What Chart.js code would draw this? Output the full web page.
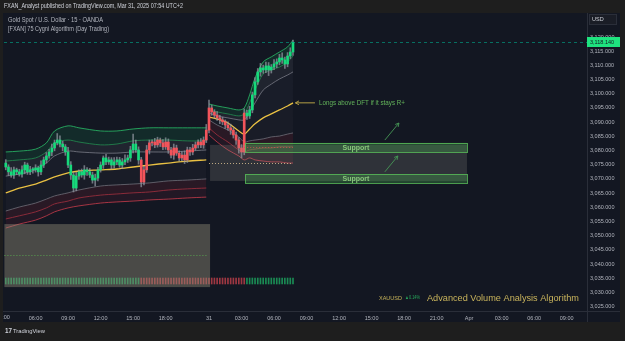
<!DOCTYPE html>
<html>
<head>
<meta charset="utf-8">
<style>
  html, body { margin: 0; padding: 0; background: #1e1e1e; }
  canvas { display: block; }
</style>
<script src="https://cdn.jsdelivr.net/npm/chart.js@4.4.1/dist/chart.umd.min.js"></script>
</head>
<body>
<canvas id="myChart" width="625" height="341"></canvas>
<script>
// bar index: 0 = Mar 31 00:00, one step = 15 min
const timeTickIdx = [-76, -64, -52, -40, -28, -16, 0, 12, 24, 36, 48, 60, 72, 84, 96, 108, 120, 132];
const timeTickLabels = ["03:00", "06:00", "09:00", "12:00", "15:00", "18:00", "31", "03:00", "06:00", "09:00", "12:00", "15:00", "18:00", "21:00", "Apr", "03:00", "06:00", "09:00"];
const priceTicks = [3025, 3030, 3035, 3040, 3045, 3050, 3055, 3060, 3065, 3070, 3075, 3080, 3085, 3090, 3095, 3100, 3105, 3110, 3115, 3120];

const firstOpen = 3075.6;
const fridayClose = [
  3074.2, 3072.5, 3071.4, 3073.2, 3072.5,
  3071.7, 3073.2, 3074.9, 3072.5, 3073.2,
  3073.2, 3073.9, 3072.5, 3074.9, 3076.7,
  3078.1, 3079.5, 3080.9, 3082.7, 3083.7,
  3082.3, 3081.3, 3079.5, 3074.9, 3071.4,
  3066.8, 3071.0, 3072.5, 3071.4, 3073.2,
  3072.5, 3071.4, 3069.6, 3070.3, 3073.2,
  3074.9, 3077.4, 3076.0, 3076.7, 3074.9,
  3076.0, 3076.7, 3074.9, 3076.0, 3076.7,
  3077.4, 3080.2, 3082.3, 3080.2, 3076.7,
  3068.9, 3073.2, 3080.2, 3082.7, 3083.0,
  3082.0, 3083.7, 3082.7, 3081.3, 3083.0,
  3080.2, 3078.4, 3080.9, 3079.1, 3077.4,
  3078.4, 3076.7, 3080.2, 3079.5, 3080.9,
  3082.0, 3083.0, 3082.0, 3083.7, 3087.2
];
const mondayClose = [
  3095.0, 3093.6, 3092.5, 3091.5, 3090.8,
  3090.1, 3089.0, 3088.0, 3087.2, 3085.5,
  3083.7, 3080.9, 3079.5, 3093.2, 3092.2,
  3094.3, 3099.6, 3104.2, 3107.7, 3109.1,
  3108.4, 3109.8, 3108.4, 3109.4, 3110.5,
  3111.2, 3112.6, 3111.9, 3110.5, 3113.3,
  3114.7, 3118.14
];
const fridayWickHi = [
  1.2, 0.8, 1.5, 1.0, 0.6, 0.9, 1.4, 1.0, 0.7, 1.2, 0.8, 1.1, 0.6, 1.5, 1.0,
  1.2, 0.9, 1.4, 1.0, 2.3, 1.5, 1.0, 0.8, 1.6, 1.2, 0.9, 1.3, 0.7, 1.0, 1.5,
  0.8, 1.2, 1.0, 1.4, 0.9, 1.1, 0.7, 1.3, 1.0, 0.8, 1.5, 1.0, 0.9, 1.2, 1.8,
  1.0, 1.3, 3.5, 1.4, 1.1, 0.9, 1.2, 1.6, 1.0, 0.8, 1.3, 1.0, 0.7, 1.2, 1.5,
  1.1, 0.9, 1.4, 1.0, 0.8, 1.2, 1.5, 1.0, 0.9, 1.3, 1.0, 0.8, 1.2, 1.1, 2.0
];
const fridayWickLo = [
  1.0, 1.3, 0.8, 1.2, 1.0, 0.7, 1.1, 1.4, 0.9, 1.0, 1.2, 0.8, 1.5, 1.0, 0.9,
  1.1, 0.8, 1.3, 1.0, 0.7, 1.0, 1.4, 1.2, 0.9, 1.6, 1.4, 1.0, 1.2, 0.8, 1.5,
  1.3, 0.9, 1.1, 2.1, 1.0, 0.8, 1.2, 1.0, 0.9, 1.4, 1.1, 1.0, 0.8, 1.3, 1.0,
  0.9, 1.2, 1.0, 0.8, 1.5, 1.7, 1.0, 0.9, 1.4, 1.1, 1.0, 0.8, 1.3, 1.0, 0.9,
  1.2, 1.0, 1.5, 0.8, 1.1, 1.0, 1.3, 0.9, 1.2, 1.0, 0.8, 1.1, 1.0, 1.2, 0.9
];
const mondayWickHi = [
  2.8, 1.0, 0.8, 1.2, 0.9, 1.0, 0.7, 1.1, 1.3, 0.8, 1.0, 0.9, 1.2, 1.5, 1.0, 1.3,
  1.0, 1.5, 1.2, 1.6, 1.0, 1.4, 1.2, 0.9, 1.5, 1.1, 1.3, 1.8, 1.0, 1.2, 1.5, 0.8
];
const mondayWickLo = [
  1.0, 1.2, 1.0, 0.9, 1.3, 1.0, 1.2, 0.8, 1.5, 1.1, 1.5, 1.8, 2.1, 1.0, 1.2, 0.9,
  1.0, 1.1, 0.9, 1.5, 1.2, 1.0, 2.0, 1.1, 0.9, 1.3, 1.0, 1.2, 1.6, 1.0, 0.9, 1.2
];
// bars painted red by the algorithm (bar index ranges)
const redRuns = [[-25, -1], [0, 13]];

// algorithm bands, friday session
const fridayKnots = [-75, -70, -64, -60, -57, -52, -48, -40, -34, -28, -22, -15, -8, -1];
const friCloudTop = [3079.5, 3079.8, 3080.5, 3082.7, 3086.9, 3088.7, 3088.0, 3086.9, 3086.9, 3087.6, 3088.0, 3088.0, 3088.0, 3088.0];
const friCloudBot = [3076.3, 3076.7, 3077.4, 3079.5, 3082.7, 3083.7, 3083.0, 3082.0, 3082.3, 3083.4, 3083.7, 3083.7, 3083.4, 3083.4];
const friUpperGray = [3071.0, 3071.7, 3073.2, 3075.6, 3078.1, 3079.8, 3079.5, 3079.1, 3079.1, 3079.5, 3079.5, 3079.5, 3079.8, 3080.2];
const friDft = [3065.1, 3066.8, 3068.2, 3069.6, 3070.7, 3072.1, 3072.8, 3073.2, 3073.5, 3074.2, 3074.9, 3075.6, 3076.3, 3076.7];
const friLowerGray = [3058.7, 3060.1, 3061.5, 3062.9, 3064.0, 3065.1, 3066.1, 3067.5, 3067.9, 3068.2, 3068.6, 3069.3, 3069.6, 3070.0];
const friRedMid = [3055.9, 3057.0, 3058.4, 3059.8, 3061.2, 3062.2, 3063.3, 3064.3, 3064.7, 3065.1, 3065.4, 3066.1, 3066.5, 3066.8];
const friRedLow = [3052.7, 3054.1, 3055.5, 3057.0, 3058.4, 3059.8, 3060.5, 3061.5, 3061.9, 3062.2, 3062.6, 3062.9, 3063.3, 3063.6];

// algorithm bands, monday session
const mondayKnots = [0, 3, 7, 11, 13, 15, 17, 20, 23, 26, 29, 31];
const monCloudTop = [3096.4, 3095.7, 3095.0, 3094.3, 3095.0, 3099.6, 3105.6, 3111.2, 3113.0, 3114.7, 3116.5, 3118.9];
const monCloudBot = [3094.3, 3093.6, 3092.9, 3092.2, 3092.9, 3096.8, 3101.3, 3107.0, 3108.4, 3109.4, 3111.2, 3113.3];
const monUpperGray = [3093.2, 3092.2, 3091.5, 3090.8, 3090.8, 3093.6, 3096.8, 3101.3, 3103.4, 3105.2, 3106.6, 3107.7];
const monDft = [3091.8, 3091.1, 3089.7, 3086.9, 3085.8, 3087.6, 3089.4, 3091.5, 3092.9, 3094.3, 3095.7, 3096.8];
const monLowerGray = [3090.8, 3089.0, 3087.2, 3084.8, 3083.0, 3083.4, 3083.7, 3084.1, 3084.8, 3085.1, 3085.8, 3086.2];
const monRedMid = [3088.0, 3085.5, 3083.0, 3080.2, 3079.5, 3080.2, 3080.5, 3080.9, 3080.9, 3081.3, 3081.3, 3081.3];
const monRedLow = [3085.5, 3083.0, 3080.2, 3078.1, 3076.7, 3077.4, 3076.7, 3076.3, 3076.0, 3076.0, 3075.6, 3075.6];

// drawings on the chart
const lastPrice = 3118.14;
const planBox = { from: -75.5, to: 0.4, top: 3054.1, bottom: 3031.9 };
const rangeBox = { from: 0.4, to: 95.2, top: 3082.0, bottom: 3069.3 };
const supportZones = [
  { from: 13.3, to: 95.2, top: 3082.7, bottom: 3079.5 },
  { from: 13.3, to: 95.2, top: 3071.7, bottom: 3068.6 }
];
const levelLines = [
  { from: -75.5, to: -0.5, price: 3043.2, color: "rgba(90,170,80,0.9)" },
  { from: 0, to: 31, price: 3075.6, color: "rgba(225,200,150,0.8)" },
  { from: 13, to: 31, price: 3081.3, color: "rgba(220,80,80,0.8)" }
];
const noteArrow = { from: 39.1, to: 31.9, price: 3096.8, textAt: 40.6, text: "Longs above DFT if it stays R+" };
const upArrows = [
  [64.9, 3083.7, 70.1, 3089.7],
  [64.9, 3072.5, 69.7, 3078.1]
];

const FONT = '"Liberation Sans", Arial, sans-serif';
const GREEN = "#16d97b";
const RED = "#f2545b";
const X_MIN = -75.65;
const X_MAX = 139.5;

const closes = fridayClose.concat(mondayClose);
const wickHi = fridayWickHi.concat(mondayWickHi);
const wickLo = fridayWickLo.concat(mondayWickLo);
const candles = closes.map((c, k) => {
  const o = k === 0 ? firstOpen : closes[k - 1];
  const i = k - fridayClose.length;
  const red = redRuns.some(r => i >= r[0] && i <= r[1]);
  return { i, o, c, h: Math.max(o, c) + wickHi[k], l: Math.min(o, c) - wickLo[k], red };
});

const datasets = [];
datasets.push({
  type: "bar",
  data: candles.map(d => ({ x: d.i, y: [d.o, d.c] })),
  backgroundColor: candles.map(d => (d.red ? RED : GREEN)),
  barThickness: 2,
  minBarLength: 1,
  grouped: false,
  order: 0
});
datasets.push({
  type: "bar",
  data: candles.map(d => ({ x: d.i, y: [d.l, d.h] })),
  backgroundColor: "rgba(150,155,165,0.7)",
  barThickness: 1,
  grouped: false,
  order: 1
});
datasets.push({
  type: "bar",
  yAxisID: "yv",
  data: candles.map(d => ({ x: d.i, y: [4.5, 5.5] })),
  backgroundColor: candles.map(d => (d.red ? "rgba(220,70,80,0.7)" : "rgba(30,190,105,0.7)")),
  barThickness: 1,
  grouped: false,
  order: 2
});

const addBands = (knots, lines) => {
  let prev = null;
  lines.forEach(([vals, color, width, fillColor]) => {
    const idx = datasets.length;
    datasets.push({
      type: "line",
      data: knots.map((x, k) => ({ x, y: vals[k] })),
      borderColor: color,
      borderWidth: width,
      pointRadius: 0,
      tension: 0.3,
      fill: fillColor && prev !== null ? { target: prev } : false,
      backgroundColor: fillColor || "transparent",
      order: 5
    });
    prev = idx;
  });
};

const bandStyle = (top, bot, ug, dft, lg, rm, rl) => [
  [top, "rgba(40,180,100,0.85)", 1, null],
  [bot, "rgba(35,140,80,0.8)", 1, "rgba(20,170,95,0.14)"],
  [ug, "rgba(120,123,134,0.8)", 1, "rgba(130,135,145,0.12)"],
  [dft, "#e9c043", 1.3, "rgba(130,135,145,0.06)"],
  [lg, "rgba(110,110,120,0.8)", 1, "rgba(130,135,145,0.05)"],
  [rm, "rgba(150,45,60,0.9)", 1, "rgba(170,40,60,0.15)"],
  [rl, "rgba(200,60,75,0.8)", 1, "rgba(170,40,60,0.11)"]
];
addBands(fridayKnots, bandStyle(friCloudTop, friCloudBot, friUpperGray, friDft, friLowerGray, friRedMid, friRedLow));
addBands(mondayKnots, bandStyle(monCloudTop, monCloudBot, monUpperGray, monDft, monLowerGray, monRedMid, monRedLow));

const drawArrow = (c, x1, y1, x2, y2, color, head) => {
  c.strokeStyle = color;
  c.lineWidth = 1;
  c.beginPath();
  c.moveTo(x1, y1);
  c.lineTo(x2, y2);
  c.stroke();
  const a = Math.atan2(y2 - y1, x2 - x1);
  c.beginPath();
  c.moveTo(x2 - head * Math.cos(a - 0.5), y2 - head * Math.sin(a - 0.5));
  c.lineTo(x2, y2);
  c.lineTo(x2 - head * Math.cos(a + 0.5), y2 - head * Math.sin(a + 0.5));
  c.stroke();
};

const text = (c, str, x, y, size, color, opts = {}) => {
  c.font = (opts.bold ? "bold " : "") + size + "px " + FONT;
  c.fillStyle = color;
  c.textAlign = opts.align || "left";
  c.textBaseline = "middle";
  if (opts.width) c.fillText(str, x, y, opts.width);
  else c.fillText(str, x, y);
};

const tvOverlay = {
  id: "tvOverlay",
  beforeDraw(chart) {
    const c = chart.ctx;
    c.save();
    c.fillStyle = "#1e1e1e";
    c.fillRect(0, 0, 625, 341);
    c.fillStyle = "#131722";
    c.fillRect(3, 13, 617, 309);
    c.restore();
  },
  afterDatasetsDraw(chart) {
    const c = chart.ctx;
    const { x, y } = chart.scales;
    const X = v => x.getPixelForValue(v);
    const Y = v => y.getPixelForValue(v);
    c.save();

    c.fillStyle = "rgba(150,146,124,0.42)";
    c.fillRect(X(planBox.from), Y(planBox.top), X(planBox.to) - X(planBox.from), Y(planBox.bottom) - Y(planBox.top));
    c.fillStyle = "rgba(150,150,140,0.22)";
    c.fillRect(X(rangeBox.from), Y(rangeBox.top), X(rangeBox.to) - X(rangeBox.from), Y(rangeBox.bottom) - Y(rangeBox.top));

    supportZones.forEach(z => {
      const x1 = X(z.from), x2 = X(z.to), y1 = Y(z.top), y2 = Y(z.bottom);
      c.fillStyle = "rgba(76,175,80,0.32)";
      c.fillRect(x1, y1, x2 - x1, y2 - y1);
      c.strokeStyle = "rgba(90,190,90,0.8)";
      c.lineWidth = 1;
      c.strokeRect(Math.round(x1) + 0.5, Math.round(y1) + 0.5, Math.round(x2 - x1), Math.round(y2 - y1));
      text(c, "Support", (x1 + x2) / 2, (y1 + y2) / 2 + 0.5, 7, "rgba(140,205,125,0.95)", { align: "center", bold: true });
    });

    c.setLineDash([1, 2]);
    levelLines.forEach(l => {
      c.strokeStyle = l.color;
      c.lineWidth = 1;
      const py = Math.round(Y(l.price)) + 0.5;
      c.beginPath();
      c.moveTo(X(l.from), py);
      c.lineTo(X(l.to), py);
      c.stroke();
    });
    c.setLineDash([3, 3]);
    c.strokeStyle = "rgba(0,170,140,0.6)";
    const lp = Math.round(Y(lastPrice)) + 0.5;
    c.beginPath();
    c.moveTo(chart.chartArea.left, lp);
    c.lineTo(chart.chartArea.right, lp);
    c.stroke();
    c.setLineDash([]);

    const ay = Y(noteArrow.price);
    drawArrow(c, X(noteArrow.from), ay, X(noteArrow.to), ay, "#b59f45", 4);
    text(c, noteArrow.text, X(noteArrow.textAt), ay, 7, "#63b45a", { width: 86 });
    upArrows.forEach(a => drawArrow(c, X(a[0]), Y(a[1]), X(a[2]), Y(a[3]), "rgba(70,150,85,0.9)", 4));
    c.restore();
  },
  afterDraw(chart) {
    const c = chart.ctx;
    const { x, y } = chart.scales;
    c.save();
    // time labels that start left of the visible range, cut by the pane edge
    timeTickIdx.forEach((v, k) => {
      if (v < X_MIN) text(c, timeTickLabels[k], x.getPixelForValue(v), 317.5, 5.5, "#b2b5be", { align: "center" });
    });
    c.fillStyle = "#1e1e1e";
    c.fillRect(0, 311, 3, 11);
    // frame lines
    c.strokeStyle = "#2a2e39";
    c.lineWidth = 1;
    c.beginPath();
    c.moveTo(587.5, 13);
    c.lineTo(587.5, 322);
    c.moveTo(3, 311.5);
    c.lineTo(620, 311.5);
    c.stroke();

    text(c, "FXAN_Analyst published on TradingView.com, Mar 31, 2025 07:54 UTC+2", 4, 6.5, 6.5, "#d1d4dc", { width: 179 });
    text(c, "Gold Spot / U.S. Dollar \u00b7 15 \u00b7 OANDA", 8, 20, 6.5, "#b2b5be", { width: 95 });
    text(c, "[FXAN] 75 Cygni Algorithm (Day Trading)", 8, 29, 6.5, "#b2b5be", { width: 101 });

    text(c, "XAUUSD", 379, 298, 6, "#c8b45a", { width: 23 });
    text(c, "\u25b20.14%", 405, 298, 5, "#26a65b", { width: 15 });
    text(c, "Advanced Volume Analysis Algorithm", 427, 298, 9.5, "#c9b45c", { width: 152 });

    // USD box
    c.fillStyle = "#1a1d26";
    c.fillRect(589, 14, 28, 11);
    c.strokeStyle = "#2a2e39";
    c.strokeRect(589.5, 14.5, 27, 10);
    text(c, "USD", 592, 19.5, 5.5, "#d1d4dc");

    // last price label
    const py = Math.round(y.getPixelForValue(lastPrice));
    c.fillStyle = "#1ee37f";
    c.fillRect(587, py - 5, 33, 10);
    text(c, "3,118.140", 590, py + 0.5, 5.5, "#131722");

    // logo
    text(c, "17", 5, 331, 7, "#d1d4dc", { bold: true, width: 7 });
    text(c, "TradingView", 13, 331, 6, "#d1d4dc", { width: 32 });
    c.restore();
  }
};

Chart.defaults.font.family = FONT;
const ctx = document.getElementById("myChart").getContext("2d");

new Chart(ctx, {
  type: "bar",
  data: { datasets },
  options: {
    responsive: false,
    animation: false,
    layout: { autoPadding: false, padding: { left: 4, top: 13, right: 5, bottom: 19 } },
    plugins: {
      legend: { display: false },
      tooltip: { enabled: false }
    },
    scales: {
      x: {
        type: "linear",
        min: X_MIN,
        max: X_MAX,
        offset: false,
        grid: { display: false, drawTicks: false },
        border: { display: false },
        afterBuildTicks: s => {
          s.ticks = timeTickIdx.filter(v => v >= X_MIN).map(v => ({ value: v }));
        },
        afterFit: s => {
          s.height = 11;
          s.paddingLeft = 0;
          s.paddingRight = 0;
        },
        ticks: {
          autoSkip: false,
          maxRotation: 0,
          padding: 4,
          color: "#b2b5be",
          font: { size: 5.5 },
          callback: v => timeTickLabels[timeTickIdx.indexOf(v)]
        }
      },
      y: {
        position: "right",
        min: 3023.48,
        max: 3128.45,
        beginAtZero: false,
        grid: { display: false, drawTicks: false },
        border: { display: false },
        afterBuildTicks: s => {
          s.ticks = priceTicks.map(v => ({ value: v }));
        },
        afterFit: s => {
          s.width = 33;
          s.paddingTop = 0;
          s.paddingBottom = 0;
        },
        ticks: {
          padding: 3,
          color: "#b2b5be",
          font: { size: 5.5 },
          callback: v => v.toLocaleString("en-US", { minimumFractionDigits: 3, maximumFractionDigits: 3 })
        }
      },
      yv: {
        display: false,
        min: 0,
        max: 49.67
      }
    }
  },
  plugins: [tvOverlay]
});
</script>
</body>
</html>
